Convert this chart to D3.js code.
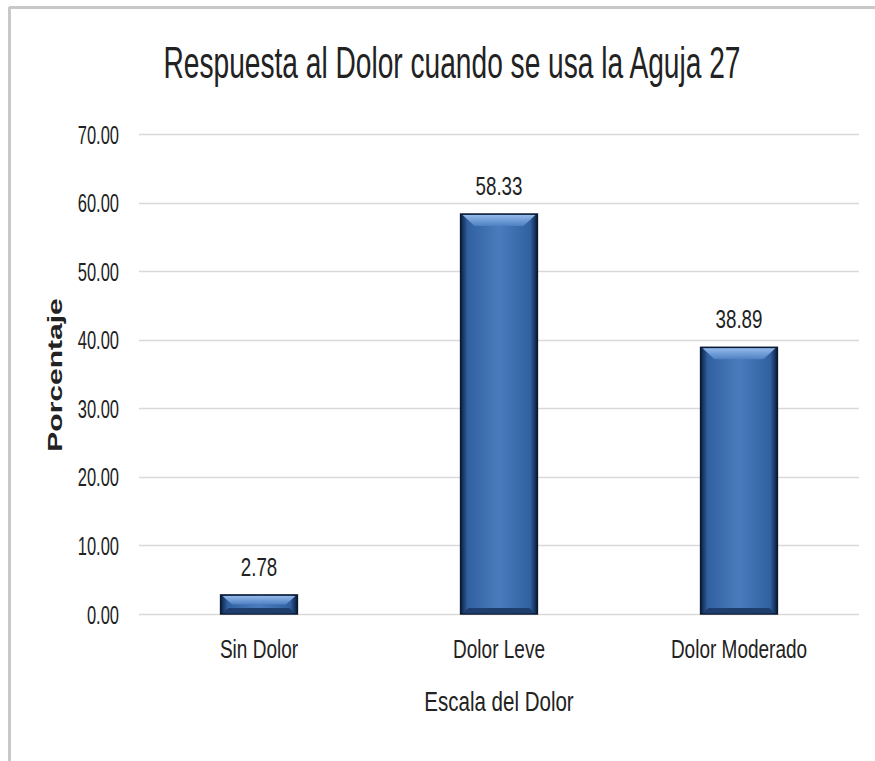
<!DOCTYPE html>
<html>
<head>
<meta charset="utf-8">
<script src="https://cdn.jsdelivr.net/npm/d3@7"></script>
<style>
  html, body { margin: 0; padding: 0; background: #fff; }
  svg text { font-family: "Liberation Sans", Arial, sans-serif; fill: #222; }
</style>
</head>
<body>
<svg id="chart" width="875" height="761"></svg>
<script>
// Chart data
const categories = ["Sin Dolor", "Dolor Leve", "Dolor Moderado"];
const values = [2.78, 58.33, 38.89];
const yTicks = [0, 10, 20, 30, 40, 50, 60, 70];
const title = "Respuesta al Dolor cuando se usa la Aguja 27";
const yTitle = "Porcentaje";
const xTitle = "Escala del Dolor";

const svg = d3.select("#chart");
const W = 875, H = 761;
const margin = { top: 134, right: 16, bottom: 147, left: 139 };
const plotW = W - margin.left - margin.right;
const plotH = H - margin.top - margin.bottom;

// Squeeze text along its run to get a condensed face
function condense(sel, factor) {
  sel.each(function () {
    const n = this.getComputedTextLength();
    d3.select(this).attr("textLength", n * factor).attr("lengthAdjust", "spacingAndGlyphs");
  });
}

// Outer frame (top and left edges)
svg.append("line").attr("x1", 9).attr("x2", W).attr("y1", 7.5).attr("y2", 7.5)
  .attr("stroke", "#c8c8c8").attr("stroke-width", 3);
svg.append("line").attr("x1", 9.5).attr("x2", 9.5).attr("y1", 7).attr("y2", H)
  .attr("stroke", "#c8c8c8").attr("stroke-width", 3);

const defs = svg.append("defs");
const grad = defs.append("linearGradient").attr("id", "barGrad")
  .attr("x1", "0%").attr("x2", "100%").attr("y1", "0%").attr("y2", "0%");
grad.append("stop").attr("offset", "0%").attr("stop-color", "#0c1f40");
grad.append("stop").attr("offset", "9%").attr("stop-color", "#30609f");
grad.append("stop").attr("offset", "50%").attr("stop-color", "#4a7cbd");
grad.append("stop").attr("offset", "91%").attr("stop-color", "#30609f");
grad.append("stop").attr("offset", "100%").attr("stop-color", "#0a1a36");

const bevel = defs.append("linearGradient").attr("id", "bevelGrad")
  .attr("x1", "0%").attr("x2", "0%").attr("y1", "0%").attr("y2", "100%");
bevel.append("stop").attr("offset", "0%").attr("stop-color", "#93b9ea");
bevel.append("stop").attr("offset", "100%").attr("stop-color", "#4d80c2");

const g = svg.append("g").attr("transform", `translate(${margin.left},${margin.top})`);

const x = d3.scaleBand().domain(categories).range([0, plotW]).paddingInner(0.68).paddingOuter(0.34);
const y = d3.scaleLinear().domain([0, 70]).range([plotH, 0]);

// Gridlines
g.append("g").selectAll("line").data(yTicks).join("line")
  .attr("x1", 0).attr("x2", plotW)
  .attr("y1", d => Math.round(y(d)) + 0.5).attr("y2", d => Math.round(y(d)) + 0.5)
  .attr("stroke", "#d9d9d9").attr("stroke-width", 1.5);

// Y axis labels
const yAxis = d3.axisLeft(y).tickValues(yTicks).tickFormat(d3.format(".2f")).tickSize(0).tickPadding(20);
const ya = g.append("g").call(yAxis);
ya.select(".domain").remove();
ya.selectAll("text").attr("font-size", 25).style("font-family", '"Liberation Sans", Arial, sans-serif')
  .attr("fill", "#333").attr("dy", "0.36em").call(condense, 0.66);

// Bars
const bars = g.append("g").selectAll("g").data(values).join("g")
  .attr("transform", (d, i) => `translate(${x(categories[i])},0)`);
bars.append("rect")
  .attr("x", 0).attr("y", d => y(d))
  .attr("width", x.bandwidth()).attr("height", d => y(0) - y(d))
  .attr("fill", "url(#barGrad)")
  .attr("stroke", "#0b1a33").attr("stroke-width", 1.5);
// Top bevel highlight
bars.append("path")
  .attr("d", d => {
    const w = x.bandwidth(), top = y(d), h = Math.min(12, (y(0) - y(d)) / 2);
    return `M2,${top + 1}L${w - 2},${top + 1}L${w - 2 - h},${top + h}L${2 + h},${top + h}Z`;
  })
  .attr("fill", "url(#bevelGrad)");
// Bottom shade
bars.append("path")
  .attr("d", d => {
    const w = x.bandwidth(), bot = y(0), h = Math.min(6, (y(0) - y(d)) / 3);
    return `M2,${bot - 1}L${w - 2},${bot - 1}L${w - 2 - h},${bot - h}L${2 + h},${bot - h}Z`;
  })
  .attr("fill", "#1e3f6e");

// Value labels
g.append("g").selectAll("text").data(values).join("text")
  .attr("x", (d, i) => x(categories[i]) + x.bandwidth() / 2)
  .attr("y", d => y(d) - 19)
  .attr("text-anchor", "middle")
  .attr("font-size", 25)
  .attr("fill", "#222")
  .text(d => d3.format(".2f")(d))
  .call(condense, 0.75);

// X axis labels
const xAxis = d3.axisBottom(x).tickSize(0).tickPadding(26);
const xa = g.append("g").attr("transform", `translate(0,${plotH})`).call(xAxis);
xa.select(".domain").remove();
xa.selectAll("text").attr("font-size", 25).style("font-family", '"Liberation Sans", Arial, sans-serif')
  .attr("fill", "#333").call(condense, 0.76);

// Axis titles
svg.append("text").attr("x", 499).attr("y", 711).attr("text-anchor", "middle")
  .attr("font-size", 27).attr("fill", "#333").text(xTitle).call(condense, 0.76);
svg.append("text").attr("transform", "translate(62,375) rotate(-90)")
  .attr("text-anchor", "middle").attr("font-size", 20).attr("font-weight", "bold")
  .attr("fill", "#333").text(yTitle).call(condense, 1.5);

// Title
svg.append("text").attr("x", 452).attr("y", 78).attr("text-anchor", "middle")
  .attr("font-size", 45).attr("fill", "#111").text(title).call(condense, 0.625);
</script>
</body>
</html>
